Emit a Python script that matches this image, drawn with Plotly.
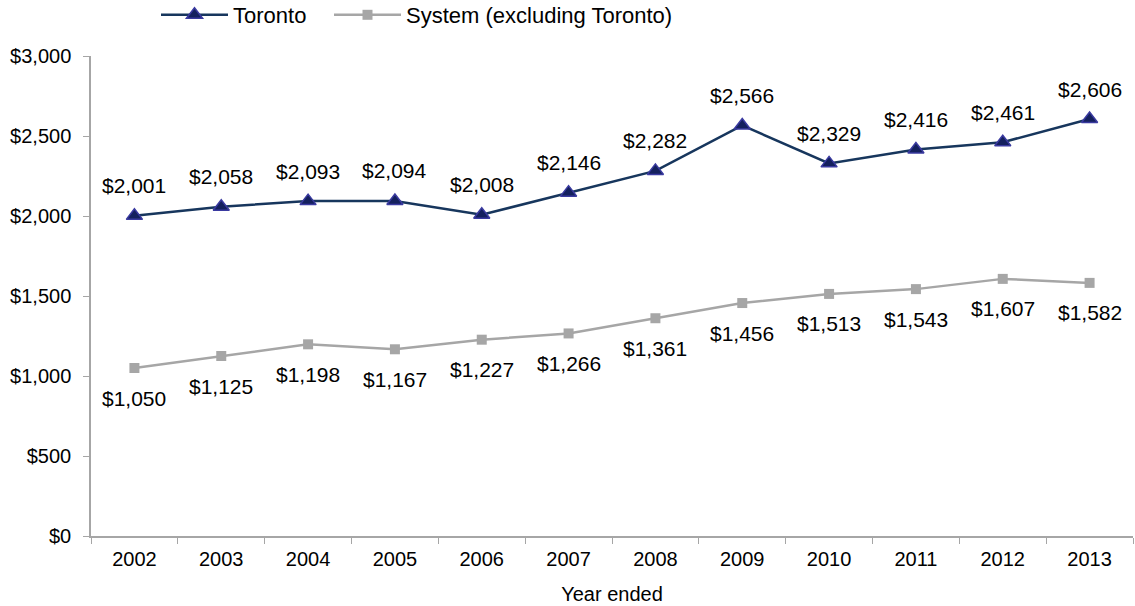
import plotly.graph_objects as go

years = ["2002", "2003", "2004", "2005", "2006", "2007", "2008", "2009", "2010", "2011", "2012", "2013"]
toronto = [2001, 2058, 2093, 2094, 2008, 2146, 2282, 2566, 2329, 2416, 2461, 2606]
system = [1050, 1125, 1198, 1167, 1227, 1266, 1361, 1456, 1513, 1543, 1607, 1582]
y_ticks = [0, 500, 1000, 1500, 2000, 2500, 3000]
y_tick_labels = ["$0", "$500", "$1,000", "$1,500", "$2,000", "$2,500", "$3,000"]

font = "Liberation Sans, Arial, sans-serif"
fs = 20

fig = go.Figure()
fig.add_trace(go.Scatter(
    x=years, y=toronto, name="Toronto", mode="lines+markers", legend="legend",
    line=dict(color="#17365D", width=2.5),
    marker=dict(symbol="triangle-up", size=14, color="#14205E", line=dict(color="#3A3AA0", width=1.5)),
))
fig.add_trace(go.Scatter(
    x=years, y=system, name="System (excluding Toronto)", mode="lines+markers", legend="legend2",
    line=dict(color="#A6A6A6", width=2.5),
    marker=dict(symbol="square", size=10, color="#A6A6A6"),
))

for i, v in enumerate(toronto):
    fig.add_annotation(x=i, y=v, xref="x", yref="y", text=f"${v:,}", showarrow=False, yshift=30,
                       font=dict(size=21, family=font, color="#000000"))
for i, v in enumerate(system):
    fig.add_annotation(x=i, y=v, xref="x", yref="y", text=f"${v:,}", showarrow=False, yshift=-30,
                       font=dict(size=21, family=font, color="#000000"))

leg_common = dict(orientation="h", y=1 - 15 / 606, xanchor="left", yanchor="middle",
                  yref="container", xref="container", font=dict(size=22, family=font),
                  itemwidth=67, bgcolor="rgba(0,0,0,0)")

fig.update_layout(
    width=1135, height=606,
    margin=dict(l=91, r=2, t=56, b=70, autoexpand=False),
    paper_bgcolor="white", plot_bgcolor="white",
    font=dict(family=font, size=fs, color="#000000"),
    showlegend=True,
    legend=dict(x=156 / 1135, **leg_common),
    legend2=dict(x=329 / 1135, **leg_common),
    xaxis=dict(
        type="category", tickson="boundaries", ticks="outside", ticklen=6,
        tickcolor="#A6A6A6", showline=True, linecolor="#A6A6A6", linewidth=1.5,
        showgrid=False, zeroline=False, tickfont=dict(size=fs, family=font),
        ticklabelstandoff=4,
        title=dict(text="Year ended", font=dict(size=fs, family=font), standoff=18),
        range=[-0.5, 11.5], automargin=False,
    ),
    yaxis=dict(
        range=[0, 3000], tickvals=y_ticks, ticktext=y_tick_labels,
        ticks="outside", ticklen=6, tickcolor="#A6A6A6",
        showline=True, linecolor="#A6A6A6", linewidth=1.5,
        showgrid=False, zeroline=False, tickfont=dict(size=fs, family=font),
        ticklabelstandoff=8,
        automargin=False,
    ),
)

fig.write_html("out.html", config={"displayModeBar": False},
               post_script="document.body.style.margin='0px';")
